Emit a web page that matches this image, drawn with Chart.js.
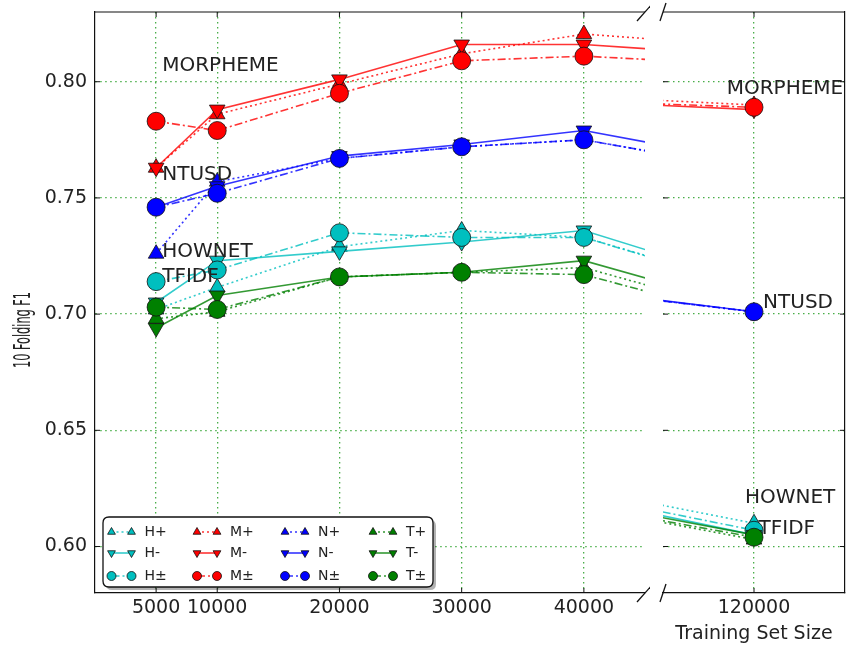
<!DOCTYPE html>
<html><head><meta charset="utf-8">
<script src="https://cdn.jsdelivr.net/npm/chart.js@4.4.0/dist/chart.umd.min.js"></script>
<style>
html,body{margin:0;padding:0;background:#fff;}
#wrap{position:relative;width:850px;height:649px;overflow:hidden;background:#fff;}
#c1{position:absolute;left:0;top:0;}
#c2{position:absolute;left:650px;top:0;}
</style></head><body>
<div id="wrap"><canvas id="c1" width="650" height="649"></canvas><canvas id="c2" width="200" height="649"></canvas></div>
<script>
// ---- data ----
const trainingSizes = [5000, 10000, 20000, 30000, 40000, 120000];
const hPlus  = [0.702, 0.7115, 0.729, 0.736, 0.733, 0.610];
const hMinus = [0.705, 0.723, 0.727, 0.731, 0.736, 0.605];
const hPm    = [0.714, 0.719, 0.735, 0.733, 0.733, 0.607];
const mPlus  = [0.763, 0.786, 0.799, 0.812, 0.8205, 0.790];
const mMinus = [0.763, 0.788, 0.801, 0.816, 0.816, 0.788];
const mPm    = [0.783, 0.779, 0.795, 0.809, 0.811, 0.789];
const nPlus  = [0.726, 0.757, 0.767, 0.772, 0.775, 0.701];
const nMinus = [0.746, 0.755, 0.768, 0.773, 0.779, 0.701];
const nPm    = [0.746, 0.752, 0.767, 0.772, 0.775, 0.701];
const tPlus  = [0.698, 0.701, 0.716, 0.718, 0.720, 0.603];
const tMinus = [0.694, 0.708, 0.716, 0.718, 0.723, 0.605];
const tPm    = [0.703, 0.702, 0.716, 0.718, 0.717, 0.604];

const seriesNames = ['H+','H-','H±','M+','M-','M±','N+','N-','N±','T+','T-','T±'];
const seriesValues = [hPlus,hMinus,hPm,mPlus,mMinus,mPm,nPlus,nMinus,nPm,tPlus,tMinus,tPm];

const yTicks = [0.60, 0.65, 0.70, 0.75, 0.80];
const xTicksLeft = [5000, 10000, 20000, 30000, 40000];
const xTicksRight = [120000];

const leftLabels = ['MORPHEME','NTUSD','HOWNET','TFIDF'];
const leftLabelX = [5500, 5500, 5500, 5500];
const leftLabelY = [0.807, 0.760, 0.727, 0.716];
const rightLabels = ['MORPHEME','NTUSD','HOWNET','TFIDF'];
const rightLabelX = [118500, 120500, 119500, 120250];
const rightLabelY = [0.797, 0.705, 0.621, 0.6075];

// ---- styles ----
const FONT = "'DejaVu Sans', 'Liberation Sans', sans-serif";
const TEXT = '#222222';
const GRID = 'rgba(40,160,40,0.85)';
const groupColor = {H:[0,191,191], M:[255,0,0], N:[0,0,255], T:[0,128,0]};
const kindStyle = {
  '+': {dash:[2,3], shape:'triangle', rot:0},
  '-': {dash:[], shape:'triangle', rot:180},
  '±': {dash:[8,3,2,3], shape:'circle', rot:0}
};
function rgba(c,a){return 'rgba('+c[0]+','+c[1]+','+c[2]+','+a+')';}

function buildDatasets(){
  return seriesNames.map((name,i)=>{
    const c = groupColor[name[0]];
    const k = kindStyle[name.slice(1)];
    return {
      label: name,
      data: trainingSizes.map((x,j)=>({x:x, y:seriesValues[i][j]})),
      borderColor: rgba(c,0.8),
      backgroundColor: rgba(c,1),
      borderWidth: 1.6,
      borderDash: k.dash,
      pointStyle: k.shape,
      pointRotation: k.rot,
      pointRadius: 9,
      pointHoverRadius: 9,
      pointBackgroundColor: rgba(c,1),
      pointBorderColor: '#111',
      pointBorderWidth: 0.8,
      tension: 0,
      fill: false,
      clip: 0,
      order: seriesNames.length - 1 - i
    };
  });
}

function drawMarker(ctx, shape, rot, x, y, r, fill){
  ctx.save();
  ctx.fillStyle = fill; ctx.strokeStyle = '#111'; ctx.lineWidth = 0.8; ctx.setLineDash([]);
  ctx.beginPath();
  if (shape === 'circle') { ctx.arc(x,y,r,0,Math.PI*2); }
  else {
    let a = rot*Math.PI/180;
    for (let i=0;i<3;i++){
      const px = x + Math.sin(a)*r, py = y - Math.cos(a)*r;
      if (i===0) ctx.moveTo(px,py); else ctx.lineTo(px,py);
      a += 2*Math.PI/3;
    }
    ctx.closePath();
  }
  ctx.fill(); ctx.stroke();
  ctx.restore();
}

function line(ctx,x1,y1,x2,y2){ctx.beginPath();ctx.moveTo(x1,y1);ctx.lineTo(x2,y2);ctx.stroke();}

function drawLabels(chart, names, xs, ys){
  const ctx = chart.ctx, sx = chart.scales.x, sy = chart.scales.y;
  ctx.save();
  ctx.font = '20px ' + FONT; ctx.fillStyle = TEXT;
  ctx.textAlign = 'left'; ctx.textBaseline = 'middle';
  names.forEach((n,i)=>ctx.fillText(n, sx.getPixelForValue(xs[i]), sy.getPixelForValue(ys[i])));
  ctx.restore();
}

const leftPlugin = {
  id:'leftDecor',
  afterDatasetsDraw(chart){ drawLabels(chart, leftLabels, leftLabelX, leftLabelY); },
  afterDraw(chart){
    const ctx = chart.ctx, a = chart.chartArea, sx = chart.scales.x, sy = chart.scales.y;
    ctx.save();
    ctx.strokeStyle = '#111'; ctx.lineWidth = 1.2; ctx.setLineDash([]);
    line(ctx, a.left, a.top, a.right, a.top);
    ctx.lineWidth = 1;
    yTicks.forEach(v=>{const y = sy.getPixelForValue(v); line(ctx,a.left,y,a.left+5,y);});
    xTicksLeft.forEach(v=>{const x = sx.getPixelForValue(v); line(ctx,x,a.bottom,x,a.bottom-5); line(ctx,x,a.top,x,a.top+5);});
    ctx.lineWidth = 1.3;
    line(ctx, a.right-8, a.top+9, a.right+8, a.top-9);
    line(ctx, a.right-8, a.bottom+9, a.right+8, a.bottom-9);
    // y title (condensed)
    ctx.save();
    ctx.font = '23px ' + FONT; ctx.fillStyle = TEXT;
    const t = '10 Folding F1';
    const w = ctx.measureText(t).width;
    ctx.translate(24, 330); ctx.rotate(-Math.PI/2); ctx.scale(76/w, 1);
    ctx.textAlign = 'center'; ctx.textBaseline = 'middle';
    ctx.fillText(t, 0, 0);
    ctx.restore();
    // legend
    const bx=103, by=517, bw=330, bh=70, br=6;
    function rr(x,y){ctx.beginPath();ctx.moveTo(x+br,y);ctx.lineTo(x+bw-br,y);ctx.quadraticCurveTo(x+bw,y,x+bw,y+br);ctx.lineTo(x+bw,y+bh-br);ctx.quadraticCurveTo(x+bw,y+bh,x+bw-br,y+bh);ctx.lineTo(x+br,y+bh);ctx.quadraticCurveTo(x,y+bh,x,y+bh-br);ctx.lineTo(x,y+br);ctx.quadraticCurveTo(x,y,x+br,y);ctx.closePath();}
    ctx.fillStyle = 'rgba(0,0,0,0.3)'; rr(bx+3,by+3); ctx.fill();
    ctx.fillStyle = '#fff'; rr(bx,by); ctx.fill();
    ctx.strokeStyle = '#111'; ctx.lineWidth = 1.3; rr(bx,by); ctx.stroke();
    const colX = [111.5, 197, 285, 373];
    const rowY = [532, 553, 576];
    chart.data.datasets.forEach((ds,i)=>{
      const col = Math.floor(i/3), row = i%3;
      const x1 = colX[col], x2 = colX[col]+20, y = rowY[row];
      ctx.save();
      ctx.strokeStyle = ds.borderColor; ctx.lineWidth = 1.6; ctx.setLineDash(ds.borderDash);
      line(ctx, x1, y, x2, y);
      ctx.restore();
      drawMarker(ctx, ds.pointStyle, ds.pointRotation, x1, y, 4.5, ds.pointBackgroundColor);
      drawMarker(ctx, ds.pointStyle, ds.pointRotation, x2, y, 4.5, ds.pointBackgroundColor);
      ctx.save();
      ctx.font = '14px ' + FONT; ctx.fillStyle = TEXT; ctx.textAlign='left'; ctx.textBaseline='middle';
      ctx.fillText(ds.label, x1+33, y);
      ctx.restore();
    });
    ctx.restore();
  }
};

const rightPlugin = {
  id:'rightDecor',
  afterDatasetsDraw(chart){ drawLabels(chart, rightLabels, rightLabelX, rightLabelY); },
  afterDraw(chart){
    const ctx = chart.ctx, a = chart.chartArea, sx = chart.scales.x, sy = chart.scales.y;
    ctx.save();
    ctx.strokeStyle = '#111'; ctx.lineWidth = 1.2;
    line(ctx, a.left, a.top, a.right, a.top);
    ctx.lineWidth = 1;
    yTicks.forEach(v=>{const y = sy.getPixelForValue(v); line(ctx,a.right,y,a.right-5,y); line(ctx,a.left,y,a.left+5,y);});
    xTicksRight.forEach(v=>{const x = sx.getPixelForValue(v); line(ctx,x,a.bottom,x,a.bottom-5); line(ctx,x,a.top,x,a.top+5);});
    ctx.lineWidth = 1.3;
    line(ctx, a.left-3, a.top+9, a.left+3, a.top-9);
    line(ctx, a.left-3, a.bottom+9, a.left+3, a.bottom-9);
    ctx.restore();
  }
};

Chart.defaults.font.family = FONT;
Chart.defaults.color = TEXT;

function yScale(pos, labels, width){
  return {
    type:'linear', position:pos, min:0.58, max:0.83,
    afterBuildTicks(s){ s.ticks = yTicks.map(v=>({value:v})); },
    afterFit(s){ s.width = width; s.paddingTop = 0; s.paddingBottom = 0; s.paddingLeft = 0; s.paddingRight = 0; },
    ticks:{ display:labels, padding:8, font:{size:19}, color:TEXT, callback:v=>Number(v).toFixed(2) },
    grid:{ color:GRID, lineWidth:1.3, drawTicks:false },
    border:{ display:true, color:'#111', width:1.2, dash:[1.5,3.5] }
  };
}
function xScale(min,max,ticks,title){
  return {
    type:'linear', position:'bottom', min:min, max:max,
    afterBuildTicks(s){ s.ticks = ticks.map(v=>({value:v})); },
    afterFit(s){ s.height = 56; s.paddingTop = 0; s.paddingBottom = 0; s.paddingLeft = 0; s.paddingRight = 0; },
    ticks:{ padding:4, font:{size:19}, color:TEXT, maxRotation:0, autoSkip:false, callback:v=>String(v) },
    grid:{ color:GRID, lineWidth:1.3, drawTicks:false },
    border:{ display:true, color:'#111', width:1.2, dash:[1.5,3.5] },
    title: title ? {display:true, text:title, font:{size:19}, color:TEXT, padding:{top:0,bottom:4}} : {display:false}
  };
}

const common = {
  responsive:false, animation:false, devicePixelRatio:1,
  plugins:{ legend:{display:false}, tooltip:{enabled:false} },
  events:[]
};

new Chart(document.getElementById('c1'), {
  type:'line',
  data:{ datasets: buildDatasets() },
  options: Object.assign({}, common, {
    layout:{ autoPadding:false, padding:{left:0, right:5, top:12, bottom:0} },
    scales:{ x: xScale(0, 45000, xTicksLeft, null), y: yScale('left', true, 95) }
  }),
  plugins:[leftPlugin]
});

new Chart(document.getElementById('c2'), {
  type:'line',
  data:{ datasets: buildDatasets() },
  options: Object.assign({}, common, {
    layout:{ autoPadding:false, padding:{left:13, right:0, top:12, bottom:0} },
    scales:{ x: xScale(115000, 125000, xTicksRight, 'Training Set Size'), y: yScale('right', false, 5) }
  }),
  plugins:[rightPlugin]
});
</script>
</body></html>
